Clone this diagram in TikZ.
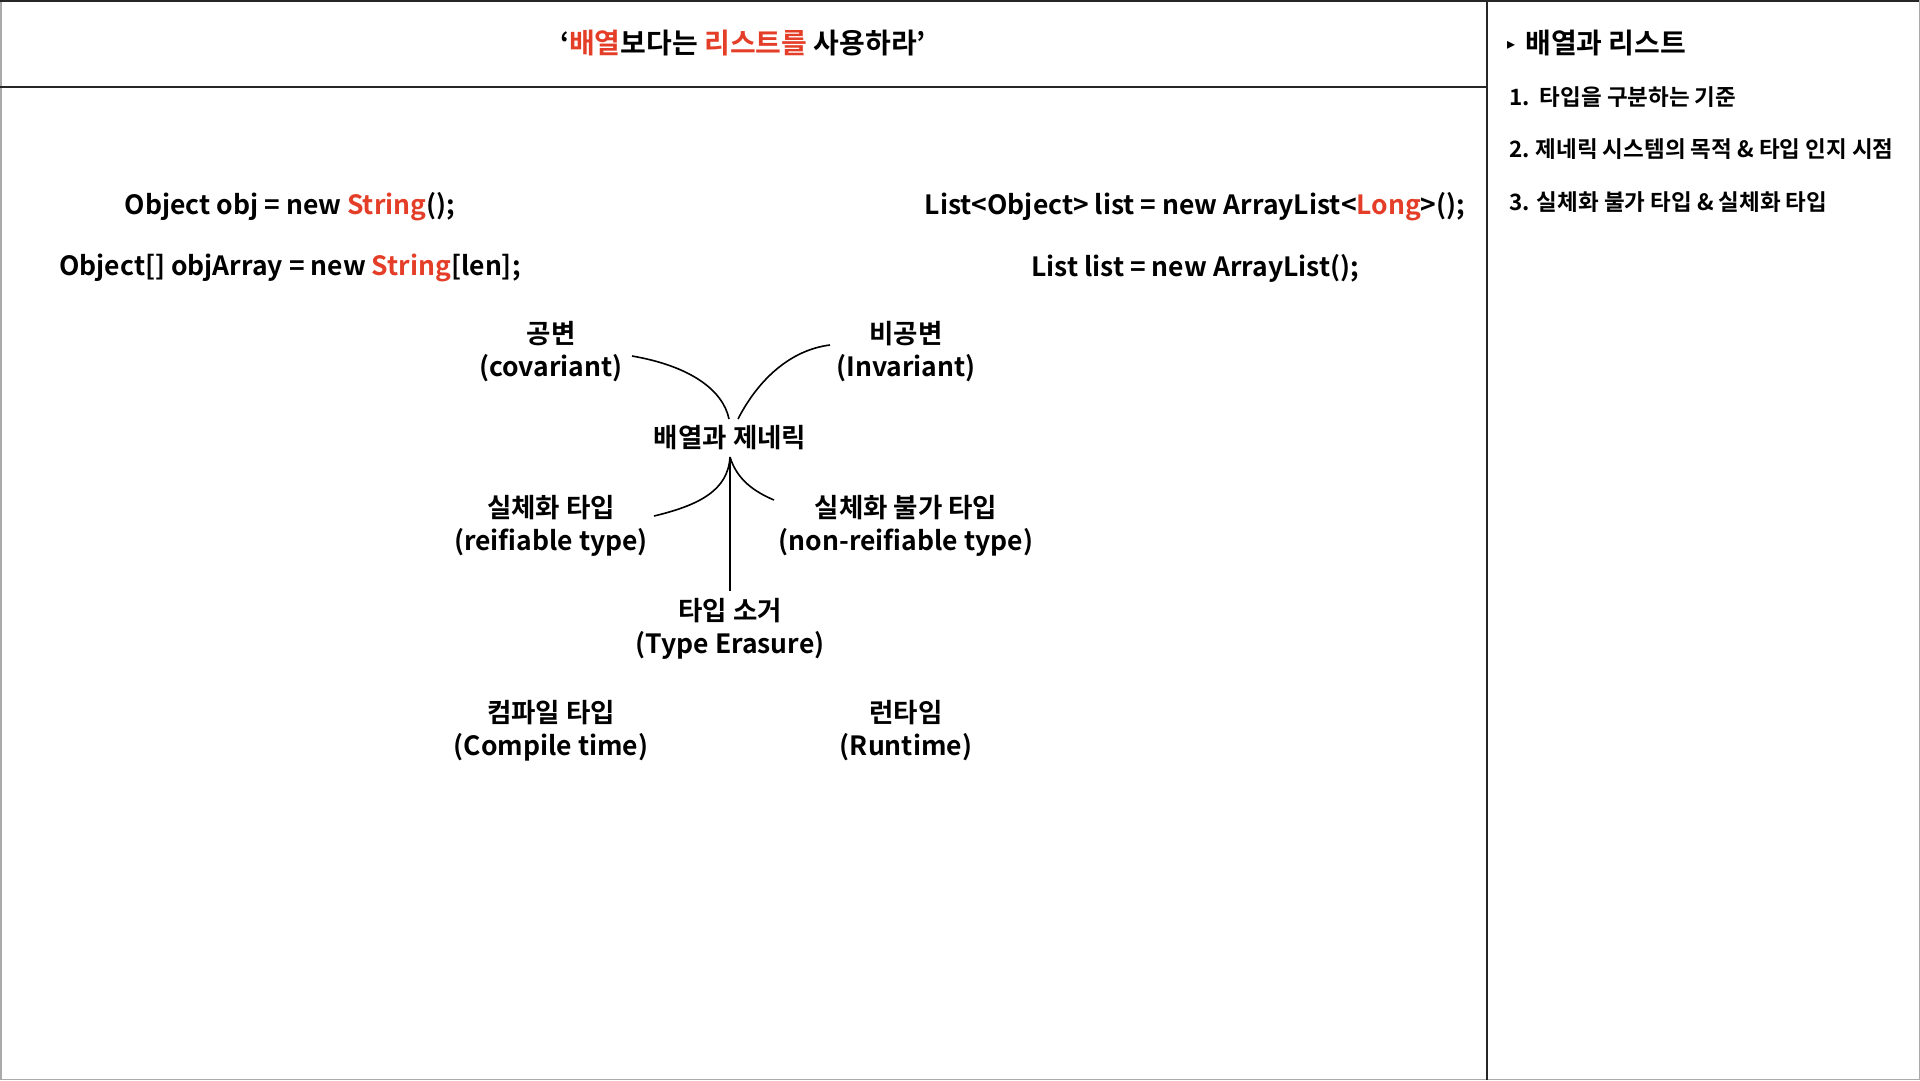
\documentclass[tikz,border=0pt]{standalone}
\usepackage{fontspec}
\setmainfont{Noto Sans CJK KR}[BoldFont={Noto Sans CJK KR Bold}]
\newfontfamily\symfont{DejaVu Sans}
\definecolor{accent}{RGB}{228,62,40}
\definecolor{framegray}{RGB}{170,170,170}
\begin{document}
\begin{tikzpicture}[x=1pt,y=-1pt,
  txt/.style={font=\bfseries\fontsize{26.5}{33}\selectfont, inner sep=0pt, align=center},
  side/.style={font=\bfseries\fontsize{22.5}{26}\selectfont, inner sep=0pt, anchor=west},
  link/.style={line width=1.6pt, black}]
\useasboundingbox (0,0) rectangle (1920,1080);
% outer frame and panels
\draw[framegray, line width=1.5pt] (0.75,0.75) rectangle (1919.25,1079.25);
\draw[black!85, line width=1.5pt] (0,0.75) -- (1919,0.75);
\draw[black!85, line width=1.5pt] (0,87) -- (1487,87);
\draw[black!85, line width=1.5pt] (1487,0) -- (1487,1080);

% title
\node[txt, font=\bfseries\fontsize{28}{32}\selectfont] (title) at (743,43)
  {‘\textcolor{accent}{배열}보다는 \textcolor{accent}{리스트를} 사용하라’};

% side panel
\node[side, font=\bfseries\fontsize{28}{32}\selectfont] (sidehead) at (1507,43)
  {{\symfont\fontsize{16}{16}\selectfont\raisebox{4pt}{▸}}\hspace{10pt}배열과 리스트};
\node[side] (item1) at (1509,97) {1.\hspace{10pt}타입을 구분하는 기준};
\node[side] (item2) at (1509,149) {2.\hspace{6pt}제네릭 시스템의 목적 \& 타입 인지 시점};
\node[side] (item3) at (1509,202) {3.\hspace{7pt}실체화 불가 타입 \& 실체화 타입};

% code lines
\node[txt] (arr1) at (290,207) {Object obj = new \textcolor{accent}{String}();};
\node[txt] (arr2) at (290,268) {Object[] objArray = new \textcolor{accent}{String}[len];};
\node[txt] (lst1) at (1195,207) {List<Object> list = new ArrayList<\textcolor{accent}{Long}>();};
\node[txt] (lst2) at (1195,268) {List list = new ArrayList();};

% concept map
\node[txt] (center) at (730,438) {배열과 제네릭};
\node[txt] (cov) at (551,352) {공변\\(covariant)};
\node[txt] (inv) at (906,352) {비공변\\(Invariant)};
\node[txt] (reif) at (551,526) {실체화 타입\\(reifiable type)};
\node[txt] (nonreif) at (906,526) {실체화 불가 타입\\(non-reifiable type)};
\node[txt] (erasure) at (730,629) {타입 소거\\(Type Erasure)};
\node[txt] (compile) at (551,731) {컴파일 타입\\(Compile time)};
\node[txt] (runtime) at (906,731) {런타임\\(Runtime)};

\coordinate (cbot) at (730,457);
\coordinate (covend) at (632,356);
\coordinate (invend) at (830,345);
\coordinate (reifend) at (654,516);
\coordinate (nonreifend) at (774,500);
\coordinate (erasetop) at (730,591);

\draw[link] (covend) .. controls (690,366) and (723,390) .. (729,419);
\draw[link] (738,419) .. controls (758,380) and (790,350) .. (invend);
\draw[link] (reifend) .. controls (700,505) and (728,490) .. (cbot);
\draw[link] (cbot) .. controls (737,480) and (755,492) .. (nonreifend);
\draw[link] (cbot) -- (erasetop);
\end{tikzpicture}
\end{document}
